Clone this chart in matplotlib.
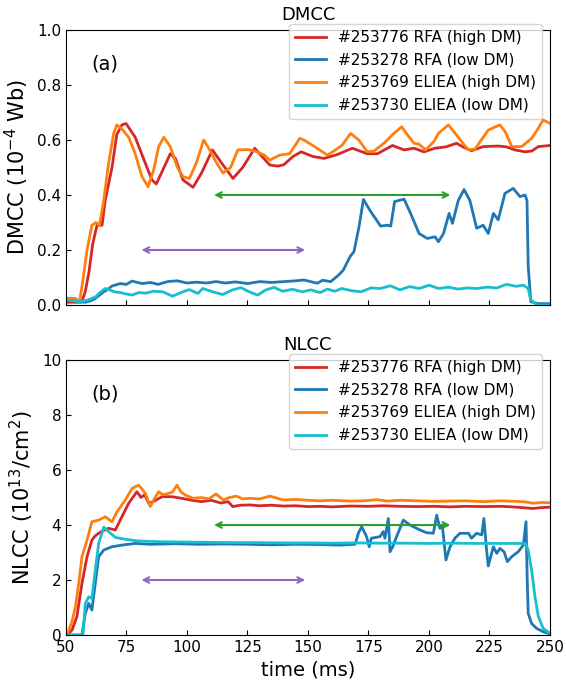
import numpy as np
import matplotlib.pyplot as plt

# ---- DMCC (top panel), units 1e-4 Wb ----
rfa_high_dm_t = [50, 53, 56.5, 58, 59.5, 61, 62.8, 64.9, 66.2, 69, 71, 73.1, 74.8, 78.6,
                 82.8, 85.5, 87.3, 89.7, 93.1, 95.2, 98.3, 102.5, 106, 110.5, 114, 119,
                 123, 128, 131, 134.2, 137.6, 140, 143.8, 147.2, 152, 156.6, 162.1, 168.3,
                 174.5, 178.7, 184.9, 189.7, 193.8, 197.9, 202.5, 207, 211.4, 214, 217.6,
                 222.4, 228.6, 232, 235.5, 239.7, 242.5, 245.2, 250]
rfa_high_dm_v = [0.01, 0.01, 0.01, 0.05, 0.12, 0.22, 0.29, 0.29, 0.38, 0.50, 0.62, 0.655,
                 0.66, 0.61, 0.515, 0.455, 0.44, 0.485, 0.55, 0.533, 0.455, 0.428, 0.48,
                 0.564, 0.52, 0.46, 0.50, 0.57, 0.54, 0.509, 0.505, 0.51, 0.54, 0.557,
                 0.54, 0.533, 0.547, 0.57, 0.55, 0.55, 0.58, 0.564, 0.57, 0.557, 0.57,
                 0.575, 0.588, 0.575, 0.561, 0.576, 0.578, 0.575, 0.564, 0.557, 0.56,
                 0.576, 0.58]

rfa_low_dm_t = [50, 53, 56, 58, 60, 61.4, 63, 65.6, 67, 69, 72.4, 75, 77.3, 81.4, 85, 88,
                92, 95.9, 100, 104, 108, 112, 116, 120, 125, 130, 135, 140, 145, 148.3,
                153.9, 156, 159.4, 162.8, 164.6, 167.4, 169, 171.1, 172.9, 175.9, 180,
                182.8, 184.2, 185.8, 189.7, 192.4, 195.9, 199.3, 202.5, 203.9, 206, 208.3,
                209.7, 212.1, 214.5, 216.9, 219.7, 222.4, 224.5, 226.6, 228.6, 231.4,
                234.8, 237.6, 239.7, 240.5, 241, 242.1, 245, 250]
rfa_low_dm_v = [0.015, 0.018, 0.012, 0.01, 0.015, 0.02, 0.03, 0.048, 0.055, 0.069, 0.078,
                0.075, 0.087, 0.078, 0.082, 0.075, 0.085, 0.088, 0.08, 0.083, 0.08, 0.085,
                0.08, 0.084, 0.078, 0.085, 0.082, 0.085, 0.088, 0.091, 0.079, 0.09, 0.085,
                0.11, 0.127, 0.176, 0.194, 0.285, 0.384, 0.34, 0.287, 0.29, 0.287, 0.376,
                0.385, 0.333, 0.26, 0.242, 0.248, 0.23, 0.26, 0.333, 0.297, 0.38, 0.42,
                0.38, 0.279, 0.29, 0.26, 0.333, 0.31, 0.406, 0.424, 0.394, 0.40, 0.38,
                0.14, 0.012, 0.005, 0.005]

eliea_high_dm_t = [50, 54, 55.5, 56.6, 58.7, 60.7, 62.4, 63.8, 65.6, 67.6, 69.7, 71, 73.1,
                   75.9, 78.6, 81.4, 83.9, 86.2, 88.3, 90.4, 93.1, 95.9, 98.3, 101, 104,
                   106.9, 109, 112, 114.9, 118, 121, 125.2, 128, 132, 134.2, 138.3, 142.4,
                   146.6, 148.3, 152, 158, 160.7, 164, 167.6, 171, 174.5, 177.3, 181.4,
                   185, 188.7, 191, 193.8, 195.9, 198.6, 202, 203.9, 208, 212.1, 216.2,
                   219, 224.5, 229.3, 231.5, 234.2, 238.3, 242.4, 245, 247.2, 250]
eliea_high_dm_v = [0.025, 0.024, 0.01, 0.067, 0.2, 0.29, 0.30, 0.29, 0.38, 0.515, 0.624,
                   0.655, 0.64, 0.61, 0.55, 0.467, 0.43, 0.49, 0.576, 0.61, 0.576, 0.503,
                   0.467, 0.46, 0.52, 0.60, 0.57, 0.52, 0.48, 0.50, 0.564, 0.565, 0.56,
                   0.545, 0.527, 0.545, 0.55, 0.606, 0.60, 0.58, 0.545, 0.56, 0.58, 0.624,
                   0.60, 0.557, 0.56, 0.588, 0.62, 0.648, 0.62, 0.588, 0.585, 0.564,
                   0.594, 0.624, 0.655, 0.61, 0.564, 0.567, 0.636, 0.655, 0.63, 0.576,
                   0.576, 0.606, 0.64, 0.673, 0.66]

eliea_low_dm_t = [50, 53, 56, 59, 62.3, 64, 66.2, 68, 70, 72.5, 75, 77.3, 80, 83, 86, 90,
                  94, 98.3, 101, 104.5, 106.5, 110.6, 114.7, 118.8, 122.3, 125.7, 129.2,
                  132.6, 136, 139.5, 143.6, 147.7, 151.2, 155, 158, 161, 164, 168, 172,
                  176, 180, 184, 188, 192, 196, 200, 204, 208, 212, 216, 220, 224, 228,
                  232, 236, 239, 241, 242, 244.6, 250]
eliea_low_dm_v = [0.02, 0.015, 0.012, 0.018, 0.03, 0.045, 0.06, 0.055, 0.048, 0.045, 0.04,
                  0.036, 0.045, 0.043, 0.05, 0.048, 0.032, 0.048, 0.056, 0.042, 0.06, 0.048,
                  0.038, 0.055, 0.063, 0.048, 0.036, 0.055, 0.064, 0.05, 0.057, 0.048,
                  0.055, 0.045, 0.058, 0.05, 0.06, 0.052, 0.048, 0.062, 0.06, 0.07, 0.055,
                  0.067, 0.06, 0.072, 0.06, 0.065, 0.058, 0.062, 0.06, 0.065, 0.062, 0.075,
                  0.068, 0.072, 0.06, 0.02, 0.0, 0.0]

# ---- NLCC (bottom panel), units 1e13 cm^-2 ----
rfa_high_nl_t = [50, 51, 52.5, 54.5, 56.6, 58.7, 60.7, 62, 63.5, 65.5, 67.6, 70.4, 73.1,
                 75.9, 79.3, 81, 82.5, 84.2, 86, 89.7, 93.8, 97.9, 102, 106, 110, 114, 117,
                 118.9, 122, 126, 130, 135, 139.8, 145, 150, 155, 160, 167.4, 175, 181,
                 188, 195, 202, 208.7, 215, 222.5, 230, 236.2, 243, 246, 250]
rfa_high_nl_v = [0.0, 0.05, 0.18, 0.67, 1.88, 2.85, 3.45, 3.6, 3.7, 3.8, 3.88, 3.82, 4.3,
                 4.79, 5.21, 5.0, 5.1, 4.79, 4.85, 5.03, 5.03, 4.97, 4.9, 4.85, 4.9, 4.8,
                 4.85, 4.67, 4.72, 4.73, 4.7, 4.72, 4.69, 4.7, 4.67, 4.68, 4.66, 4.69, 4.68,
                 4.7, 4.68, 4.67, 4.68, 4.66, 4.68, 4.67, 4.68, 4.65, 4.6, 4.63, 4.65]

rfa_low_nl_t = [50, 56.6, 58, 59.4, 60.7, 62.1, 63.5, 65.6, 69, 73.1, 78.6, 85, 95, 105,
                115, 125, 135, 145, 155, 163.2, 169.5, 170.8, 172.2, 174.2, 175.3, 176.2,
                179.8, 181.1, 181.8, 183.2, 183.9, 185, 186.9, 189.4, 192.1, 196.3, 199,
                201.8, 203.2, 204.5, 205.5, 207, 208.7, 210.7, 212.8, 216.3, 217.6, 219.7,
                221.8, 222.7, 223.8, 224.5, 226.6, 228, 229.3, 231, 232.4, 234.2, 236.9,
                239, 240.1, 240.6, 241, 242.4, 244.5, 247.2, 250]
rfa_low_nl_v = [0.0, 0.0, 0.79, 1.15, 0.91, 1.88, 2.85, 3.09, 3.21, 3.27, 3.33, 3.3, 3.32,
                3.3, 3.31, 3.3, 3.28, 3.3, 3.29, 3.27, 3.3, 3.70, 3.94, 3.58, 3.21, 3.52,
                3.58, 3.76, 3.52, 4.24, 3.03, 3.21, 3.64, 4.18, 4.0, 3.82, 3.72, 3.70, 4.36,
                3.88, 4.0, 2.73, 3.21, 3.52, 3.7, 3.7, 3.52, 3.7, 3.64, 4.24, 3.09, 2.51,
                3.21, 2.97, 3.15, 3.03, 2.67, 2.85, 3.03, 3.27, 4.12, 2.0, 0.79, 0.42,
                0.24, 0.12, 0.04]

eliea_high_nl_t = [50, 51.1, 52.5, 53.9, 55.3, 56.6, 58.7, 60.7, 63.5, 66.2, 69, 71.1, 74.5,
                   77.3, 80, 81.5, 82.8, 84.8, 86.5, 88.3, 90, 92.4, 94, 95.9, 97.5, 99.3,
                   102.6, 106, 109, 112, 115, 117.5, 120.5, 123, 126, 130, 134.3, 139.8,
                   145, 150, 155, 160, 167.4, 173, 178.4, 183, 188, 195, 202, 208.7, 215,
                   222.5, 229, 236.2, 240, 243, 246, 250]
eliea_high_nl_v = [0.0, 0.15, 0.5, 1.03, 1.9, 2.85, 3.45, 4.12, 4.18, 4.3, 4.12, 4.48, 4.91,
                   5.33, 5.45, 5.3, 5.15, 4.67, 4.95, 5.21, 5.1, 5.15, 5.2, 5.45, 5.2, 5.09,
                   4.97, 5.0, 4.95, 5.13, 4.91, 5.0, 5.05, 4.95, 4.97, 4.95, 5.05, 4.91,
                   4.93, 4.9, 4.88, 4.9, 4.87, 4.88, 4.92, 4.87, 4.9, 4.88, 4.86, 4.87,
                   4.88, 4.85, 4.88, 4.86, 4.84, 4.79, 4.82, 4.81]

eliea_low_nl_t = [50, 57, 58, 59.4, 60.7, 62.1, 63.5, 65.6, 67.6, 70.4, 74.5, 80, 90, 100,
                  110, 120, 130, 140, 150, 160, 170, 180, 190, 200, 210, 220, 230, 239.8,
                  241, 242.4, 243.8, 245.2, 247.2, 250]
eliea_low_nl_v = [0.0, 0.0, 1.15, 1.39, 1.33, 2.36, 3.33, 3.92, 3.76, 3.55, 3.48, 3.42, 3.39,
                  3.38, 3.37, 3.36, 3.36, 3.35, 3.35, 3.34, 3.35, 3.34, 3.34, 3.33, 3.34,
                  3.33, 3.33, 3.33, 3.09, 2.36, 1.39, 0.67, 0.24, 0.06]

labels = ["#253776 RFA (high DM)", "#253278 RFA (low DM)",
          "#253769 ELIEA (high DM)", "#253730 ELIEA (low DM)"]
colors = ["#d62728", "#1f77b4", "#ff7f0e", "#17becf"]

# time windows marked by arrows
window_high = (110, 210)
window_low = (80, 150)

fig, (ax1, ax2) = plt.subplots(2, 1, figsize=(5.66, 6.86), dpi=100, sharex=True)
fig.subplots_adjust(left=0.1166, right=0.9717, bottom=0.0743, top=0.9563, hspace=0.2)

top_series = [(rfa_high_dm_t, rfa_high_dm_v), (rfa_low_dm_t, rfa_low_dm_v),
              (eliea_high_dm_t, eliea_high_dm_v), (eliea_low_dm_t, eliea_low_dm_v)]
bot_series = [(rfa_high_nl_t, rfa_high_nl_v), (rfa_low_nl_t, rfa_low_nl_v),
              (eliea_high_nl_t, eliea_high_nl_v), (eliea_low_nl_t, eliea_low_nl_v)]

panels = [
    (ax1, top_series, "DMCC", r"DMCC (10$^{-4}$ Wb)", "(a)", 1.0, 0.2, 0.4, 0.2),
    (ax2, bot_series, "NLCC", r"NLCC (10$^{13}$/cm$^{2}$)", "(b)", 10, 2, 4, 2),
]

for ax, series, title, ylab, tag, ymax, ystep, y_hi, y_lo in panels:
    for (t, v), lab, c in zip(series, labels, colors):
        ax.plot(t, v, color=c, lw=2, label=lab)
    ax.annotate("", xy=(window_high[0], y_hi), xytext=(window_high[1], y_hi),
                arrowprops=dict(arrowstyle="<->", color="#2ca02c", lw=1.5))
    ax.annotate("", xy=(window_low[0], y_lo), xytext=(window_low[1], y_lo),
                arrowprops=dict(arrowstyle="<->", color="#9467bd", lw=1.5))
    ax.set_xlim(50, 250)
    ax.set_ylim(0, ymax)
    ax.set_yticks(np.arange(0, ymax + ystep / 2, ystep))
    ax.set_xticks(np.arange(50, 251, 25))
    ax.tick_params(direction="in", labelsize=11)
    ax.set_title(title, fontsize=13, pad=7)
    ax.set_ylabel(ylab, fontsize=15)
    ax.text(0.052, 0.875, tag, transform=ax.transAxes, fontsize=14, va="center")
    ax.legend(loc="upper right", bbox_to_anchor=(1.0, 1.05), fontsize=11)

ax2.set_xlabel("time (ms)", fontsize=14)

fig.savefig("out.png")
